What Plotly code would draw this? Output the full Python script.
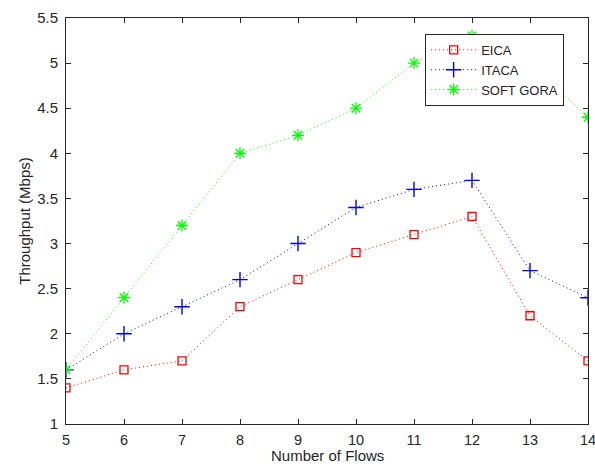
import plotly.graph_objects as go

flows = [5, 6, 7, 8, 9, 10, 11, 12, 13, 14]
eica = [1.4, 1.6, 1.7, 2.3, 2.6, 2.9, 3.1, 3.3, 2.2, 1.7]
itaca = [1.6, 2.0, 2.3, 2.6, 3.0, 3.4, 3.6, 3.7, 2.7, 2.4]
soft_gora = [1.6, 2.4, 3.2, 4.0, 4.2, 4.5, 5.0, 5.3, 5.0, 4.4]

x_ticks = list(range(5, 15))
y_ticks = [1, 1.5, 2, 2.5, 3, 3.5, 4, 4.5, 5, 5.5]
y_tick_labels = ["1", "1.5", "2", "2.5", "3", "3.5", "4", "4.5", "5", "5.5"]

FONT = "Liberation Sans, Arial, sans-serif"
DOT = "1px,3px"

fig = go.Figure()
fig.add_trace(go.Scatter(x=flows, y=eica, name="EICA", mode="lines+markers",
                         line=dict(color="#ff0000", width=1, dash=DOT),
                         marker=dict(symbol="square-open", size=8, color="#ff0000", line=dict(width=1.3))))
fig.add_trace(go.Scatter(x=flows, y=itaca, name="ITACA", mode="lines+markers",
                         line=dict(color="#0000ff", width=1, dash=DOT),
                         marker=dict(symbol="cross-thin-open", size=11, color="#0000ff", line=dict(width=1.4, color="#0000ff"))))
fig.add_trace(go.Scatter(x=flows, y=soft_gora, name="SOFT GORA", mode="lines+markers",
                         line=dict(color="#00ff00", width=1, dash=DOT),
                         marker=dict(symbol="asterisk-open", size=10, color="#00ff00", line=dict(width=1.3, color="#00ff00"))))

axis_common = dict(showline=True, linecolor="#262626", linewidth=1, mirror="ticks",
                   ticks="inside", ticklen=5, tickcolor="#262626", showgrid=False, zeroline=False,
                   automargin=False, ticklabeloverflow="allow")

fig.update_layout(
    width=595, height=464,
    margin=dict(l=66, r=7, t=18, b=40),
    paper_bgcolor="white", plot_bgcolor="white",
    xaxis=dict(range=[5, 14], tickvals=x_ticks, ticklabelstandoff=3,
               tickfont=dict(family=FONT, size=14.5, color="#262626"), **axis_common),
    yaxis=dict(range=[1, 5.5], tickvals=y_ticks, ticktext=y_tick_labels, ticklabelstandoff=4,
               tickfont=dict(family=FONT, size=15, color="#262626"),
               title=dict(text="Throughput (Mbps)", standoff=2,
                          font=dict(family=FONT, size=15, color="#262626")), **axis_common),
    legend=dict(x=0.688, y=0.961, xanchor="left", yanchor="top", bgcolor="white",
                bordercolor="#262626", borderwidth=1, itemwidth=45, tracegroupgap=0,
                font=dict(family=FONT, size=13, color="#262626")),
    annotations=[dict(text="Number of Flows", xref="paper", yref="paper", x=0.5, y=0,
                      xanchor="center", yanchor="middle", yshift=-31, showarrow=False,
                      font=dict(family=FONT, size=15, color="#262626"))],
)

fig.write_html("out.html")
